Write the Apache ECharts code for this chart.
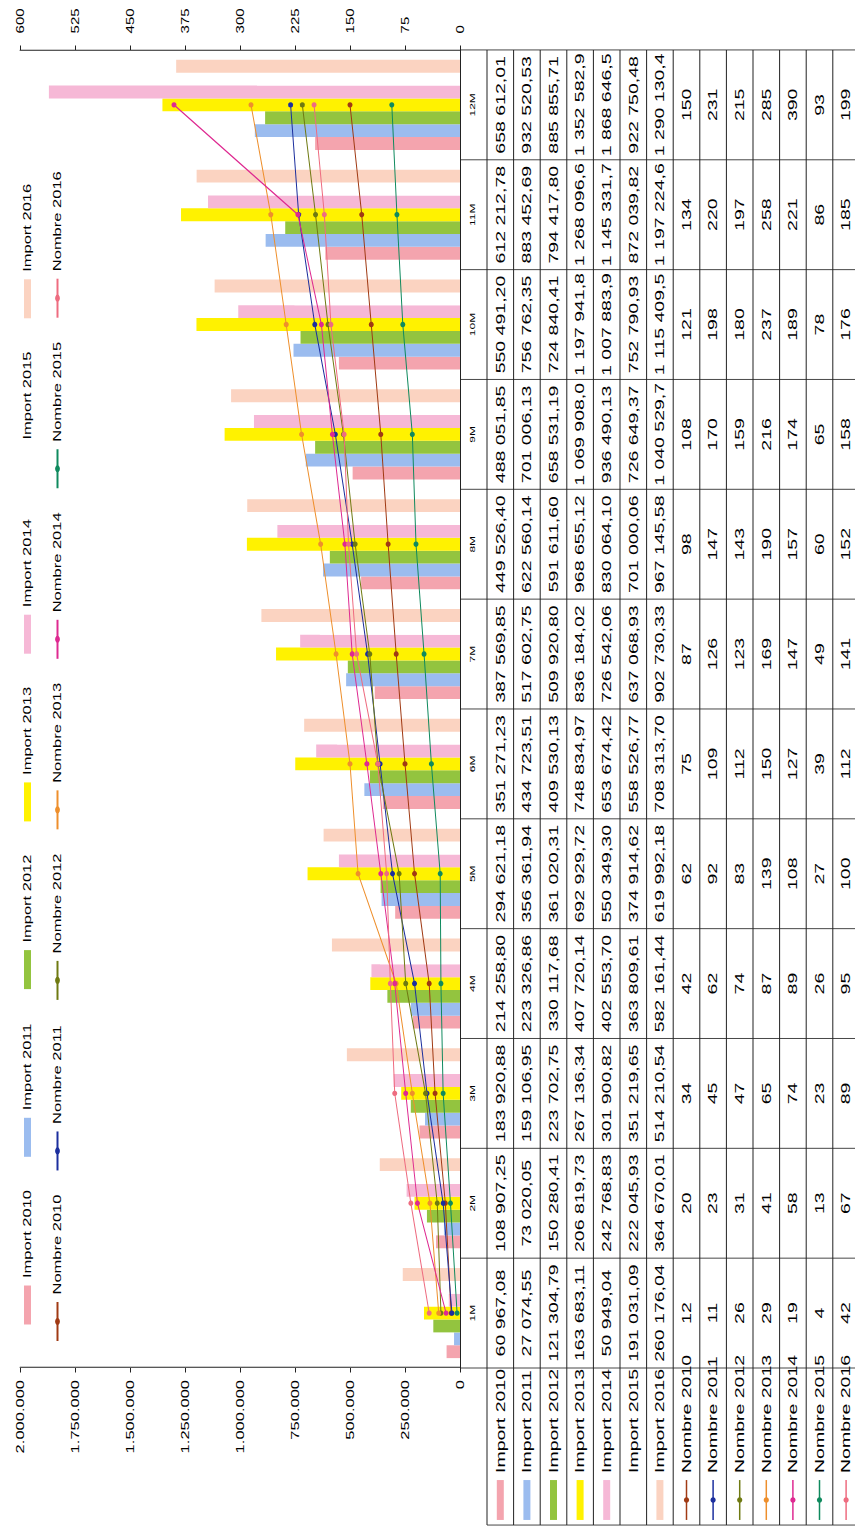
<!DOCTYPE html>
<html><head><meta charset="utf-8">
<script src="https://cdn.jsdelivr.net/npm/echarts@6/dist/echarts.min.js"></script>
<style>
html,body{margin:0;padding:0;background:#fff;overflow:hidden;width:855px;height:1530px;}
#chart{position:absolute;left:0;top:0;width:1020px;height:855px;transform-origin:0 0;transform:translate(0px,1530px) rotate(-90deg) scale(1.5,1);}
</style></head><body><div id="chart"></div>
<script>
// ---------- DATA ----------
const categories = ['1M','2M','3M','4M','5M','6M','7M','8M','9M','10M','11M','12M'];
const leftTicks = [0,250000,500000,750000,1000000,1250000,1500000,1750000,2000000];
const rightTicks = [0,75,150,225,300,375,450,525,600];

const importNames = ['Import 2010','Import 2011','Import 2012','Import 2013','Import 2014','Import 2015','Import 2016'];
const nombreNames = ['Nombre 2010','Nombre 2011','Nombre 2012','Nombre 2013','Nombre 2014','Nombre 2015','Nombre 2016'];

const import2010 = [60967.08,108907.25,183920.88,214258.80,294621.18,351271.23,387569.85,449526.40,488051.85,550491.20,612212.78,658612.01];
const import2011 = [27074.55,73020.05,159106.95,223326.86,356361.94,434723.51,517602.75,622560.14,701006.13,756762.35,883452.69,932520.53];
const import2012 = [121304.79,150280.41,223702.75,330117.68,361020.31,409530.13,509920.80,591611.60,658531.19,724840.41,794417.80,885855.71];
const import2013 = [163683.11,206819.73,267136.34,407720.14,692929.72,748834.97,836184.02,968655.12,1069908.0,1197941.8,1268096.6,1352582.9];
const import2014 = [50949.04,242768.83,301900.82,402553.70,550349.30,653674.42,726542.06,830064.10,936490.13,1007883.9,1145331.7,1868646.5];
const import2015 = [191031.09,222045.93,351219.65,363809.61,374914.62,558526.77,637068.93,701000.06,726649.37,752790.93,872039.82,922750.48];
const import2016 = [260176.04,364670.01,514210.54,582161.44,619992.18,708313.70,902730.33,967145.58,1040529.7,1115409.5,1197224.6,1290130.4];

const nombre2010 = [12,20,34,42,62,75,87,98,108,121,134,150];
const nombre2011 = [11,23,45,62,92,109,126,147,170,198,220,231];
const nombre2012 = [26,31,47,74,83,112,123,143,159,180,197,215];
const nombre2013 = [29,41,65,87,139,150,169,190,216,237,258,285];
const nombre2014 = [19,58,74,89,108,127,147,157,174,189,221,390];
const nombre2015 = [4,13,23,26,27,39,49,60,65,78,86,93];
const nombre2016 = [42,67,89,95,100,112,141,152,158,176,185,199];

// ---------- STYLE ----------
const SX = 1.5; // horizontal stretch of the frame (text is wide in the reference)
const FONT = '"Liberation Sans", Arial, sans-serif';
const importColors = ['#f4a4ae','#9bbcef','#93c43f','#fff200','#f6b8d6','#ffffff','#fbd3c1'];
const nombreColors = ['#a03a14','#1c2f9e','#6f7a12','#ee8f2c','#de2a91','#0f8a5e','#ee6c80'];
const importSeries = [import2010,import2011,import2012,import2013,import2014,import2015,import2016];
const nombreSeries = [nombre2010,nombre2011,nombre2012,nombre2013,nombre2014,nombre2015,nombre2016];

function fmtDot(v){ return String(v).replace(/\B(?=(\d{3})+(?!\d))/g,'.'); }
function fmtFr(v){
  const s = v.toFixed(v >= 1e6 ? 1 : 2);
  const p = s.split('.');
  return p[0].replace(/\B(?=(\d{3})+(?!\d))/g,' ') + ',' + p[1];
}

const chart = echarts.init(document.getElementById('chart'), null, {renderer:'svg'});

const series = [];
importNames.forEach((n,i)=>series.push({
  name:n, type:'bar', data:importSeries[i], barGap:'0%', barCategoryGap:'18%',
  itemStyle:{color:importColors[i]}, animation:false, z:2
}));
nombreNames.forEach((n,i)=>series.push({
  name:n, type:'line', yAxisIndex:1, data:nombreSeries[i],
  symbol:'circle', symbolSize:[3.6,5], showSymbol:true,
  lineStyle:{width:1,color:nombreColors[i]}, itemStyle:{color:nombreColors[i]},
  animation:false, z:5
}));

const legends = [];
importNames.forEach((n,i)=>legends.push({
  data:[n], left:137 + i*111.8, top:22, padding:0, itemGap:0,
  itemWidth:26, itemHeight:7, icon:'rect', selectedMode:false,
  textStyle:{fontSize:11, color:'#000', fontFamily:FONT}
}));
nombreNames.forEach((n,i)=>legends.push({
  data:[n], left:125 + i*113.7, top:52, padding:0, itemGap:0,
  itemWidth:26, itemHeight:6, selectedMode:false,
  textStyle:{fontSize:11, color:'#000', fontFamily:FONT}
}));

chart.setOption({
  backgroundColor:'#ffffff',
  animation:false,
  textStyle:{fontFamily:FONT},
  legend:legends,
  grid:{left:108, right:33.3, top:20, bottom:395, containLabel:false},
  xAxis:{
    type:'category', data:categories,
    axisLine:{show:true, lineStyle:{color:'#222', width:1}},
    axisTick:{show:false},
    axisLabel:{fontSize:8, margin:8, color:'#000', fontFamily:FONT},
    splitLine:{show:false}
  },
  yAxis:[
    {type:'value', position:'left', min:leftTicks[0], max:leftTicks[leftTicks.length-1], interval:leftTicks[1]-leftTicks[0],
     axisLine:{show:true, lineStyle:{color:'#222', width:0.8}},
     axisTick:{show:true, length:3, lineStyle:{color:'#222'}},
     splitLine:{show:false},
     axisLabel:{fontSize:11, margin:8, color:'#000', fontFamily:FONT, formatter:v=>fmtDot(v)}},
    {type:'value', position:'right', min:rightTicks[0], max:rightTicks[rightTicks.length-1], interval:rightTicks[1]-rightTicks[0],
     axisLine:{show:true, lineStyle:{color:'#222', width:0.8}},
     axisTick:{show:true, length:3, lineStyle:{color:'#222'}},
     splitLine:{show:false},
     axisLabel:{fontSize:10, margin:11, color:'#000', fontFamily:FONT}}
  ],
  series:series
});

// ---------- DATA TABLE (positioned from the category axis) ----------
(function drawTable(){
  const cx = categories.map((c,i)=>chart.convertToPixel({xAxisIndex:0}, i));
  const band = (cx[cx.length-1]-cx[0])/(cx.length-1);
  const gl = cx[0]-band/2, gr = cx[cx.length-1]+band/2;
  const axisY = chart.convertToPixel({yAxisIndex:0}, 0);
  const rowTop = 487, rowH = 26.6, nRows = 14;
  const tableLeft = 3.3, bottom = rowTop + nRows*rowH;
  const els = [];
  const stroke = '#222';
  for (let r=0;r<=nRows;r++){
    const y = rowTop + r*rowH;
    els.push({type:'line', silent:true, shape:{x1:tableLeft,y1:y,x2:gr,y2:y}, style:{stroke:stroke,lineWidth:1}});
  }
  for (let c=0;c<=categories.length;c++){
    const x = gl + c*band;
    els.push({type:'line', silent:true, shape:{x1:x,y1:axisY,x2:x,y2:bottom}, style:{stroke:stroke,lineWidth:1/SX}});
  }
  els.push({type:'line', silent:true, shape:{x1:tableLeft,y1:rowTop,x2:tableLeft,y2:bottom}, style:{stroke:stroke,lineWidth:1/SX}});
  const rows = [];
  importNames.forEach((n,i)=>rows.push({name:n, vals:importSeries[i].map(fmtFr), kind:'bar', color:importColors[i]}));
  nombreNames.forEach((n,i)=>rows.push({name:n, vals:nombreSeries[i].map(String), kind:'line', color:nombreColors[i]}));
  rows.forEach((row,r)=>{
    const yc = rowTop + r*rowH + rowH/2;
    if (row.kind==='bar'){
      els.push({type:'rect', silent:true, shape:{x:6.7,y:yc-3.5,width:26.6,height:7}, style:{fill:row.color}});
    } else {
      els.push({type:'line', silent:true, shape:{x1:6.7,y1:yc,x2:33.3,y2:yc}, style:{stroke:row.color,lineWidth:1.5}});
      els.push({type:'ellipse', silent:true, shape:{cx:20,cy:yc,rx:1.8,ry:2.6}, style:{fill:row.color}});
    }
    els.push({type:'text', silent:true, x:38, y:yc, style:{text:row.name, font:'13px '+FONT, fill:'#000', align:'left', verticalAlign:'middle', textAlign:'left', textVerticalAlign:'middle'}});
    row.vals.forEach((v,c)=>{
      els.push({type:'text', silent:true, x:cx[c], y:yc, style:{text:v, font:'13px '+FONT, fill:'#000', align:'center', verticalAlign:'middle', textAlign:'center', textVerticalAlign:'middle'}});
    });
  });
  chart.setOption({graphic:{elements:els}});
})();
</script>
</body></html>
